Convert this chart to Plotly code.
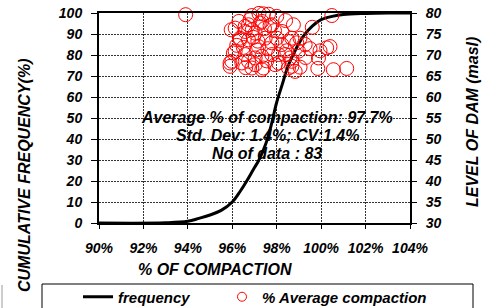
import plotly.graph_objects as go

# Cumulative frequency curve
freq_x = [90, 93, 94, 94.5, 95, 95.5, 96, 96.35, 96.65, 96.95, 97.2, 97.5, 97.75,
          98.0, 98.25, 98.5, 98.8, 99.2, 99.6, 100.0, 100.5, 101.0, 102, 103, 104]
freq_y = [0, 0.1, 0.8, 2.2, 3.8, 6, 10, 15, 20, 25.5, 30, 37.5, 46.5,
          57.5, 66, 74.5, 81.5, 89, 93.8, 96.8, 98.4, 99.3, 99.8, 100, 100]

# % compaction vs level of dam (masl), 83 tests
comp_pct = [93.9, 100.48, 99.6, 101.15, 100.55, 99.85, 99.05, 100.4, 99.95, 99.5,
            98.75, 99.05, 99.88, 98.68, 97.2, 97.63, 98.0, 96.8, 97.33, 97.78,
            96.13, 95.95, 96.58, 97.03, 98.23, 98.68, 96.35, 96.73, 97.48, 97.78,
            98.23, 97.18, 96.13, 96.58, 97.33, 98.08, 98.6, 95.98, 96.43, 97.03,
            97.33, 97.93, 98.83, 96.88, 95.9, 97.4, 96.88, 96.73, 97.25, 97.7,
            96.95, 98.0, 98.53, 99.28, 100.25, 98.98, 98.38, 97.78, 97.03, 97.4,
            96.73, 98.08, 98.53, 98.68, 96.05, 96.35, 96.58, 95.9, 96.2, 96.5,
            97.1, 97.6, 97.9, 97.45, 96.9, 96.3, 98.4, 98.45, 97.55, 96.6,
            97.15, 98.9, 99.3]
dam_level = [79.6, 79.4, 76.6, 66.8, 66.5, 66.8, 67.1, 72.0, 71.0, 71.5,
             77.2, 74.0, 69.3, 67.3, 79.9, 79.7, 79.2, 78.4, 78.0, 77.2,
             76.4, 76.0, 75.6, 75.2, 75.6, 74.0, 74.0, 73.6, 74.0, 72.9,
             72.5, 72.0, 70.9, 70.1, 69.7, 70.1, 69.3, 68.5, 68.1, 67.7,
             66.5, 67.7, 66.1, 66.9, 67.3, 79.8, 79.4, 77.2, 77.6, 77.0,
             74.2, 74.0, 73.2, 72.5, 71.7, 70.9, 70.1, 70.1, 69.3, 66.9,
             68.5, 68.1, 66.9, 68.5, 70.5, 73.6, 76.8, 68.1, 72.3, 71.8,
             71.2, 71.5, 75.8, 76.3, 76.0, 78.0, 78.2, 71.0, 68.6, 67.0,
             73.3, 72.9, 69.4]

x_ticks = [90, 92, 94, 96, 98, 100, 102, 104]
y_ticks = [0, 10, 20, 30, 40, 50, 60, 70, 80, 90, 100]
y2_ticks = [30, 35, 40, 45, 50, 55, 60, 65, 70, 75, 80]

stats_lines = ["Average % of compaction: 97.7%", "Std. Dev: 1.4%; CV:1.4%", "No of data : 83"]

FONT = "Liberation Sans, Arial, sans-serif"
W, H = 484, 308
L, R, T, B = 99, 74, 13, 85
pw, ph = W - L - R, H - T - B

def px_x(p):
    return (p - L) / pw

def px_y(p):
    return (H - B - p) / ph

fig = go.Figure()
fig.add_trace(go.Scatter(x=freq_x, y=freq_y, mode="lines", name="frequency",
                         line=dict(color="black", width=3, shape="spline", smoothing=1.0),
                         showlegend=False, yaxis="y"))
fig.add_trace(go.Scatter(x=comp_pct, y=dam_level, mode="markers", name="% Average compaction",
                         marker=dict(symbol="circle-open", color="red", size=14, line=dict(width=1, color="red")),
                         cliponaxis=False, showlegend=False, yaxis="y2"))
# legend entries
fig.add_trace(go.Scatter(x=[None], y=[None], mode="lines", name="frequency",
                         line=dict(color="black", width=3), legend="legend"))
fig.add_trace(go.Scatter(x=[None], y=[None], mode="markers", name="% Average compaction",
                         marker=dict(symbol="circle-open", color="red", size=9, line=dict(width=1, color="red")),
                         legend="legend2"))

tickfont = dict(family=FONT, size=14, color="black", weight="bold", style="italic")
grid = dict(showgrid=True, gridcolor="#333", griddash="2px,1px", gridwidth=1)

legfont = dict(family=FONT, size=15, weight="bold", style="italic", color="black")

fig.update_layout(
    width=W, height=H,
    margin=dict(l=L, r=R, t=T, b=B, autoexpand=False),
    paper_bgcolor="white", plot_bgcolor="white",
    font=dict(family=FONT, color="black"),
    xaxis=dict(range=[90, 104], tickvals=x_ticks, ticktext=[f"{v}%" for v in x_ticks],
               tickfont=tickfont, ticks="outside", ticklen=4, tickcolor="black",
               showline=True, linecolor="black", linewidth=2, mirror=True,
               zeroline=False, ticklabelstandoff=7, automargin=False, **grid),
    yaxis=dict(range=[0, 100], tickvals=y_ticks, tickfont=tickfont, ticks="outside",
               ticklen=6, tickcolor="black", showline=True, linecolor="black", linewidth=2,
               zeroline=False, ticklabelstandoff=6, automargin=False, **grid),
    yaxis2=dict(range=[30, 80], tickvals=y2_ticks, tickfont=tickfont, overlaying="y",
                side="right", ticks="outside", ticklen=5, tickcolor="black",
                showline=True, linecolor="black", linewidth=2, showgrid=False,
                zeroline=False, ticklabelstandoff=6, automargin=False),
    legend=dict(xref="container", yref="container", x=78 / W, y=1 - 297 / H,
                xanchor="left", yanchor="middle",
                orientation="h", bgcolor="rgba(0,0,0,0)", font=legfont),
    legend2=dict(xref="container", yref="container", x=222 / W, y=1 - 297 / H,
                 xanchor="left", yanchor="middle",
                 orientation="h", bgcolor="rgba(0,0,0,0)", font=legfont),
    showlegend=True,
)

# legend border
fig.add_shape(type="rect", xref="paper", yref="paper",
              x0=px_x(42), x1=px_x(473), y0=px_y(284), y1=px_y(330),
              line=dict(color="black", width=1), fillcolor="rgba(0,0,0,0)")
fig.add_shape(type="line", xref="paper", yref="paper",
              x0=px_x(2), x1=px_x(2), y0=px_y(285), y1=px_y(330),
              line=dict(color="#999", width=1))

# stats annotations
for txt, yy in zip(stats_lines, [117, 135, 153]):
    fig.add_annotation(text=f"<b><i>{txt}</i></b>", xref="paper", yref="paper",
                       x=px_x(267), y=px_y(yy), xanchor="center", yanchor="middle",
                       showarrow=False, font=dict(family=FONT, size=16, color="black"))

# axis titles
fig.add_annotation(text="<b><i>% OF COMPACTION</i></b>", xref="paper", yref="paper",
                   x=px_x(215), y=px_y(269), xanchor="center", yanchor="middle",
                   showarrow=False, font=dict(family=FONT, size=16, color="black"))
fig.add_annotation(text="<b><i>CUMULATIVE FREQUENCY(%)</i></b>", xref="paper", yref="paper",
                   x=px_x(24), y=px_y(176), xanchor="center", yanchor="middle", textangle=-90,
                   showarrow=False, font=dict(family=FONT, size=16, color="black"))
fig.add_annotation(text="<b><i>LEVEL OF DAM (masl)</i></b>", xref="paper", yref="paper",
                   x=px_x(473), y=px_y(122), xanchor="center", yanchor="middle", textangle=-90,
                   showarrow=False, font=dict(family=FONT, size=16, color="black"))

fig.write_html("out.html", config={"displayModeBar": False},
               post_script="document.body.style.margin='0px';document.body.style.overflow='hidden';")
